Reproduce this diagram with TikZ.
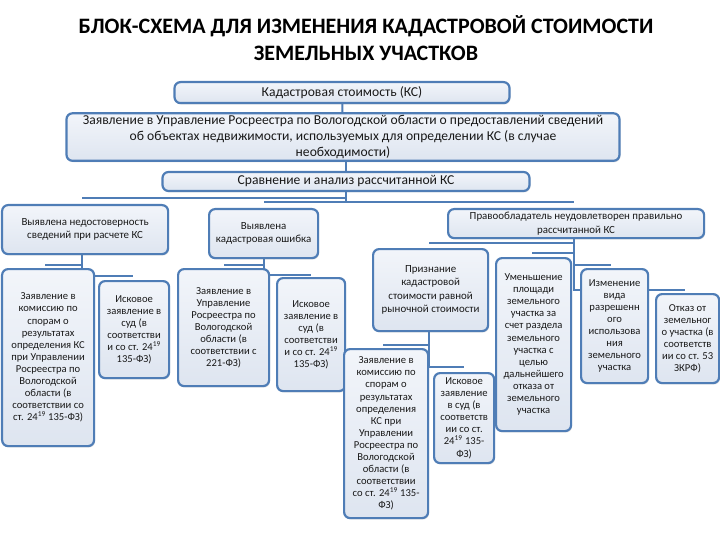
\documentclass[tikz,border=0pt]{standalone}
\usepackage{fontspec}
\setmainfont{Carlito}
\usepackage{tikz}
\usetikzlibrary{positioning, backgrounds, shadows}
\definecolor{framecolor}{RGB}{79,125,182}
\definecolor{linkcolor}{RGB}{79,125,182}
\definecolor{filltop}{RGB}{242,245,250}
\definecolor{fillbottom}{RGB}{222,229,240}
\definecolor{textcolor}{RGB}{25,25,25}
\newcommand{\st}{\textsuperscript{19}}
\tikzset{
  box/.style={draw=framecolor, line width=2.2pt, rounded corners=6pt,
              top color=filltop, bottom color=fillbottom, text=textcolor,
              align=center, inner sep=2pt,
              drop shadow={opacity=0.18, shadow xshift=1pt, shadow yshift=-1.5pt},
              font=\fontsize{10.6}{12.1}\selectfont},
  bigbox/.style={box, font=\fontsize{13.6}{16}\selectfont},
  midbox/.style={box, font=\fontsize{10.9}{13.5}\selectfont},
  link/.style={draw=linkcolor, line width=2pt},
  title/.style={font=\fontsize{22}{27}\selectfont\bfseries, text=black, align=center},
}

\begin{document}
\begin{tikzpicture}[x=1pt, y=-1pt]
  \useasboundingbox (0,0) rectangle (720,540);

  \node[title] (head) at (366,38)
    {БЛОК-СХЕМА ДЛЯ ИЗМЕНЕНИЯ КАДАСТРОВОЙ СТОИМОСТИ\\ЗЕМЕЛЬНЫХ УЧАСТКОВ};

  % top chain
  \node[bigbox, minimum width=335pt, minimum height=21pt, anchor=north]
    (kc) at (342,81) {Кадастровая стоимость (КС)};

  \node[bigbox, minimum width=553pt, minimum height=47pt, below=8pt of kc,
        xshift=1pt]
    (zayav) {Заявление в Управление Росреестра по Вологодской области о предоставлений сведений\\
             об объектах недвижимости, используемых для определении КС (в случае\\
             необходимости)};

  \node[bigbox, minimum width=367pt, minimum height=19pt, below=9pt of zayav,
        xshift=3pt]
    (sravn) {Сравнение и анализ рассчитанной КС};

  % second level
  \node[midbox, minimum width=166pt, minimum height=49pt, anchor=north west]
    (nedost) at (1,204) {Выявлена недостоверность\\сведений при расчете КС};

  \node[midbox, minimum width=109pt, minimum height=49pt, anchor=north west]
    (oshibka) at (208,208) {Выявлена\\кадастровая ошибка};

  \node[midbox, minimum width=256pt, minimum height=29pt, anchor=north west]
    (pravo) at (447,208) {Правообладатель неудовлетворен правильно\\рассчитанной КС};

  % left branch
  \node[box, minimum width=92pt, minimum height=177pt, anchor=north west]
    (kom1) at (1,268) {Заявление в\\комиссию по\\спорам о\\результатах\\определения КС\\
                       при Управлении\\Росреестра по\\Вологодской\\области (в\\
                       соответствии со\\ст. 24\st{} 135-ФЗ)};

  \node[box, minimum width=70pt, minimum height=97pt, anchor=north west]
    (isk1) at (98,280) {Исковое\\заявление в\\суд (в\\соответстви\\и со ст. 24\st\\135-ФЗ)};

  % middle branch
  \node[box, minimum width=91pt, minimum height=117pt, anchor=north west]
    (upr) at (177,268) {Заявление в\\Управление\\Росреестра по\\Вологодской\\области (в\\
                        соответствии с\\221-ФЗ)};

  \node[box, minimum width=68pt, minimum height=113pt, anchor=north west]
    (isk2) at (276,277) {Исковое\\заявление в\\суд (в\\соответстви\\и со ст. 24\st\\135-ФЗ)};

  % right branch
  \node[midbox, minimum width=115pt, minimum height=82pt, anchor=north west]
    (priznan) at (372,248) {Признание\\кадастровой\\стоимости равной\\рыночной стоимости};

  \node[box, minimum width=84pt, minimum height=169pt, anchor=north west]
    (kom2) at (343,348) {Заявление в\\комиссию по\\спорам о\\результатах\\определения\\КС при\\
                         Управлении\\Росреестра по\\Вологодской\\области (в\\соответствии\\
                         со ст. 24\st{} 135-\\ФЗ)};

  \node[box, minimum width=60pt, minimum height=90pt, anchor=north west]
    (isk3) at (433,372) {Исковое\\заявление\\в суд (в\\соответств\\ии со ст.\\24\st{} 135-\\ФЗ)};

  \node[box, minimum width=75pt, minimum height=173pt, anchor=north west]
    (umen) at (495,257) {Уменьшение\\площади\\земельного\\участка за\\счет раздела\\земельного\\
                         участка с\\целью\\дальнейшего\\отказа от\\земельного\\участка};

  \node[box, minimum width=67pt, minimum height=114pt, anchor=north west]
    (izmen) at (580,268) {Изменение\\вида\\разрешенн\\ого\\использова\\ния\\земельного\\участка};

  \node[box, minimum width=63pt, minimum height=89pt, anchor=north west]
    (otkaz) at (655,293) {Отказ от\\земельног\\о участка (в\\соответств\\ии со ст. 53\\ЗКРФ)};

  % connectors behind the boxes
  \begin{scope}[on background layer]
    \draw[link] (kc) -- (zayav);
    \draw[link] (zayav.south -| sravn) -- (sravn);
    \draw[link] (sravn.south) |- ([xshift=-3pt, yshift=6pt]nedost.north);
    \draw[link] (sravn.south) |- ([yshift=6pt]oshibka.north);
    \draw[link] (sravn.south) |- ([xshift=-2pt, yshift=6pt]pravo.north);

    \draw[link] ([xshift=-3pt]nedost.south) |- ([xshift=-3pt, yshift=3pt]kom1.north);
    \draw[link] ([xshift=-3pt]nedost.south) |- ([xshift=-1pt, yshift=4pt]isk1.north);

    \draw[link] (oshibka.south) |- ([yshift=3pt]upr.north);
    \draw[link] (oshibka.south) |- ([yshift=2pt]isk2.north);

    \draw[link] ([xshift=-2pt]pravo.south) |- ([xshift=-2pt, yshift=5pt]priznan.north);
    \draw[link] ([xshift=-2pt]pravo.south) |- ([xshift=-2pt, yshift=4pt]umen.north);
    \draw[link] ([xshift=-2pt]pravo.south) |- ([xshift=-4pt, yshift=3pt]izmen.north);
    \draw[link] ([xshift=-2pt]pravo.south) |- ([xshift=-3pt, yshift=3pt]otkaz.north);

    \draw[link] ([xshift=-2pt]priznan.south) |- ([xshift=-3pt, yshift=3pt]kom2.north);
    \draw[link] ([xshift=-2pt]priznan.south) |- ([yshift=5pt]isk3.north);
  \end{scope}
\end{tikzpicture}
\end{document}
